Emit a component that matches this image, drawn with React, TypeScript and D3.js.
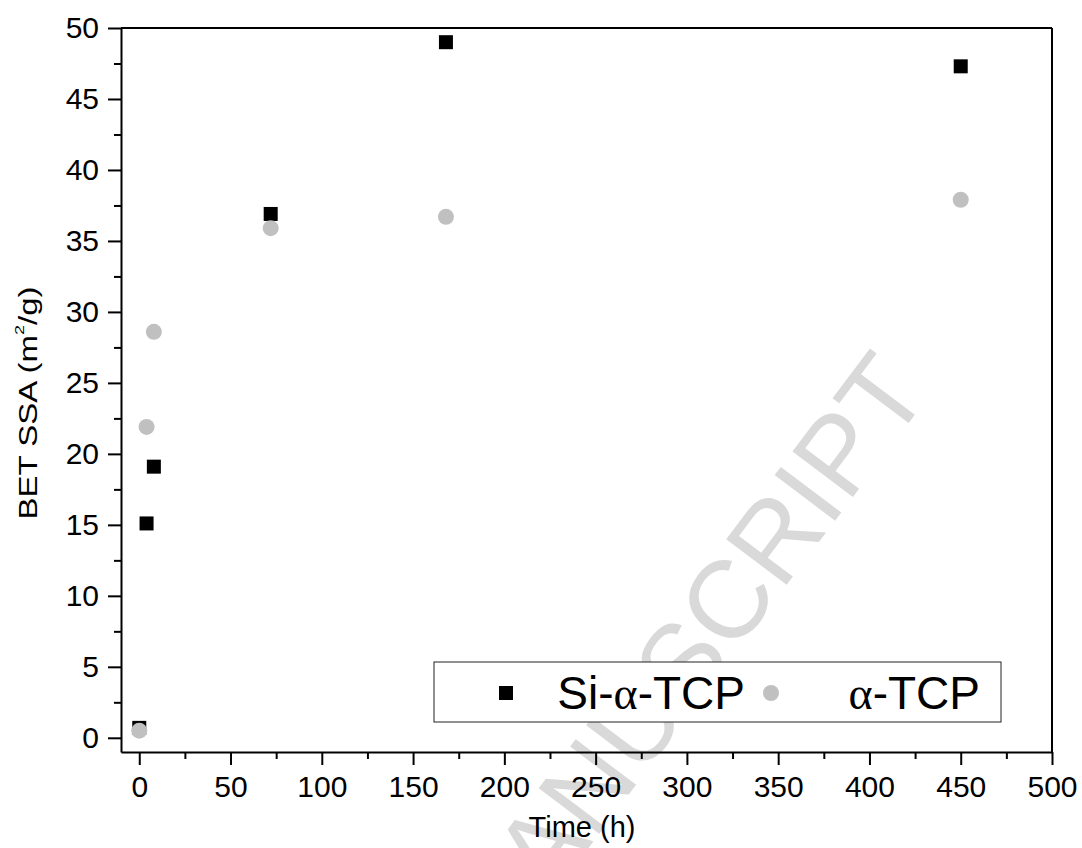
import React, { useEffect, useRef } from 'react'
import { select, scaleLinear, axisBottom, axisLeft, range } from 'd3'

// time points (h)
const hours = [0, 4, 8, 72, 168, 450]
// BET specific surface area (m2/g)
const siTcp = [0.7, 15.1, 19.1, 36.9, 49.0, 47.3]
const aTcp = [0.5, 21.9, 28.6, 35.9, 36.7, 37.9]

const xTicks = range(0, 501, 50)
const xMinor = range(25, 500, 50)
const yTicks = range(0, 51, 5)
const yMinor = range(2.5, 50, 5)

const FONT = 'Arial, "Liberation Sans", sans-serif'

function App() {
  const ref = useRef<SVGSVGElement>(null)

  useEffect(() => {
    const svg = select(ref.current)
    svg.selectAll('*').remove()

    const x = scaleLinear().domain([-10, 500]).range([121, 1052])
    const y = scaleLinear().domain([-1, 50]).range([752, 28])

    // watermark behind everything
    svg.append('text')
      .attr('transform', 'translate(932,392) rotate(-53)')
      .attr('text-anchor', 'end')
      .attr('font-family', FONT)
      .attr('font-size', 110)
      .attr('fill', '#d9d9d9')
      .text('MANUSCRIPT')

    // minor ticks
    const xm = svg.append('g')
      .attr('transform', 'translate(0,752)')
      .call(axisBottom(x).tickValues(xMinor).tickSize(7).tickFormat(() => '').tickSizeOuter(0))
    xm.select('.domain').remove()
    xm.selectAll('line').attr('stroke-width', 2)

    const ym = svg.append('g')
      .attr('transform', 'translate(121,0)')
      .call(axisLeft(y).tickValues(yMinor).tickSize(7).tickFormat(() => '').tickSizeOuter(0))
    ym.select('.domain').remove()
    ym.selectAll('line').attr('stroke-width', 2)

    // major axes
    const xa = svg.append('g')
      .attr('transform', 'translate(0,752)')
      .call(axisBottom(x).tickValues(xTicks).tickSize(13).tickPadding(11).tickSizeOuter(0))
    xa.select('.domain').attr('stroke-width', 2)
    xa.selectAll('line').attr('stroke-width', 2)
    xa.selectAll('text').attr('font-size', 30).attr('font-family', FONT).attr('fill', '#000')

    const ya = svg.append('g')
      .attr('transform', 'translate(121,0)')
      .call(axisLeft(y).tickValues(yTicks).tickSize(13).tickPadding(9).tickSizeOuter(0))
    ya.select('.domain').attr('stroke-width', 2)
    ya.selectAll('line').attr('stroke-width', 2)
    ya.selectAll('text').attr('font-size', 30).attr('font-family', FONT).attr('fill', '#000')

    // frame top and right
    svg.append('line')
      .attr('x1', x(-10)).attr('x2', x(500)).attr('y1', y(50)).attr('y2', y(50))
      .attr('stroke', '#000').attr('stroke-width', 2)
    svg.append('line')
      .attr('x1', x(500)).attr('x2', x(500)).attr('y1', y(50)).attr('y2', y(-1))
      .attr('stroke', '#000').attr('stroke-width', 2)

    // axis titles
    svg.append('text')
      .attr('x', 582).attr('y', 837)
      .attr('text-anchor', 'middle')
      .attr('font-family', FONT).attr('font-size', 29)
      .text('Time (h)')

    const yt = svg.append('text')
      .attr('transform', 'translate(37,403) rotate(-90) scale(1,0.76)')
      .attr('text-anchor', 'middle')
      .attr('font-family', FONT).attr('font-size', 33)
    yt.append('tspan').text('BET SSA (m')
    yt.append('tspan').attr('font-size', 18).attr('dy', -17).text('2')
    yt.append('tspan').attr('dy', 17).text('/g)')

    // points
    svg.append('g').selectAll('rect')
      .data(hours)
      .join('rect')
      .attr('x', (d) => x(d) - 7)
      .attr('y', (d, i) => y(siTcp[i]) - 7)
      .attr('width', 14).attr('height', 14)
      .attr('fill', '#000')

    svg.append('g').selectAll('circle')
      .data(hours)
      .join('circle')
      .attr('cx', (d) => x(d))
      .attr('cy', (d, i) => y(aTcp[i]))
      .attr('r', 8)
      .attr('fill', '#c0c0c0')

    // legend
    const lg = svg.append('g')
    lg.append('rect')
      .attr('x', 434).attr('y', 662).attr('width', 567).attr('height', 60)
      .attr('fill', '#fff').attr('stroke', '#222').attr('stroke-width', 1)
    lg.append('rect')
      .attr('x', 499).attr('y', 686).attr('width', 14).attr('height', 14)
      .attr('fill', '#000')
    const t1 = lg.append('text')
      .attr('x', 745).attr('y', 709)
      .attr('text-anchor', 'end')
      .attr('font-family', FONT).attr('font-size', 46)
    t1.append('tspan').text('Si-')
    t1.append('tspan').attr('font-family', '"Liberation Serif", serif').text('α')
    t1.append('tspan').text('-TCP')
    lg.append('circle')
      .attr('cx', 771).attr('cy', 693).attr('r', 8)
      .attr('fill', '#c0c0c0')
    const t2 = lg.append('text')
      .attr('x', 980).attr('y', 709)
      .attr('text-anchor', 'end')
      .attr('font-family', FONT).attr('font-size', 46)
    t2.append('tspan').attr('font-family', '"Liberation Serif", serif').text('α')
    t2.append('tspan').text('-TCP')
  }, [])

  return (
    <svg
      ref={ref}
      width={1082}
      height={848}
      style={{ position: 'absolute', left: 0, top: 0, background: '#fff' }}
    />
  )
}

export default App
